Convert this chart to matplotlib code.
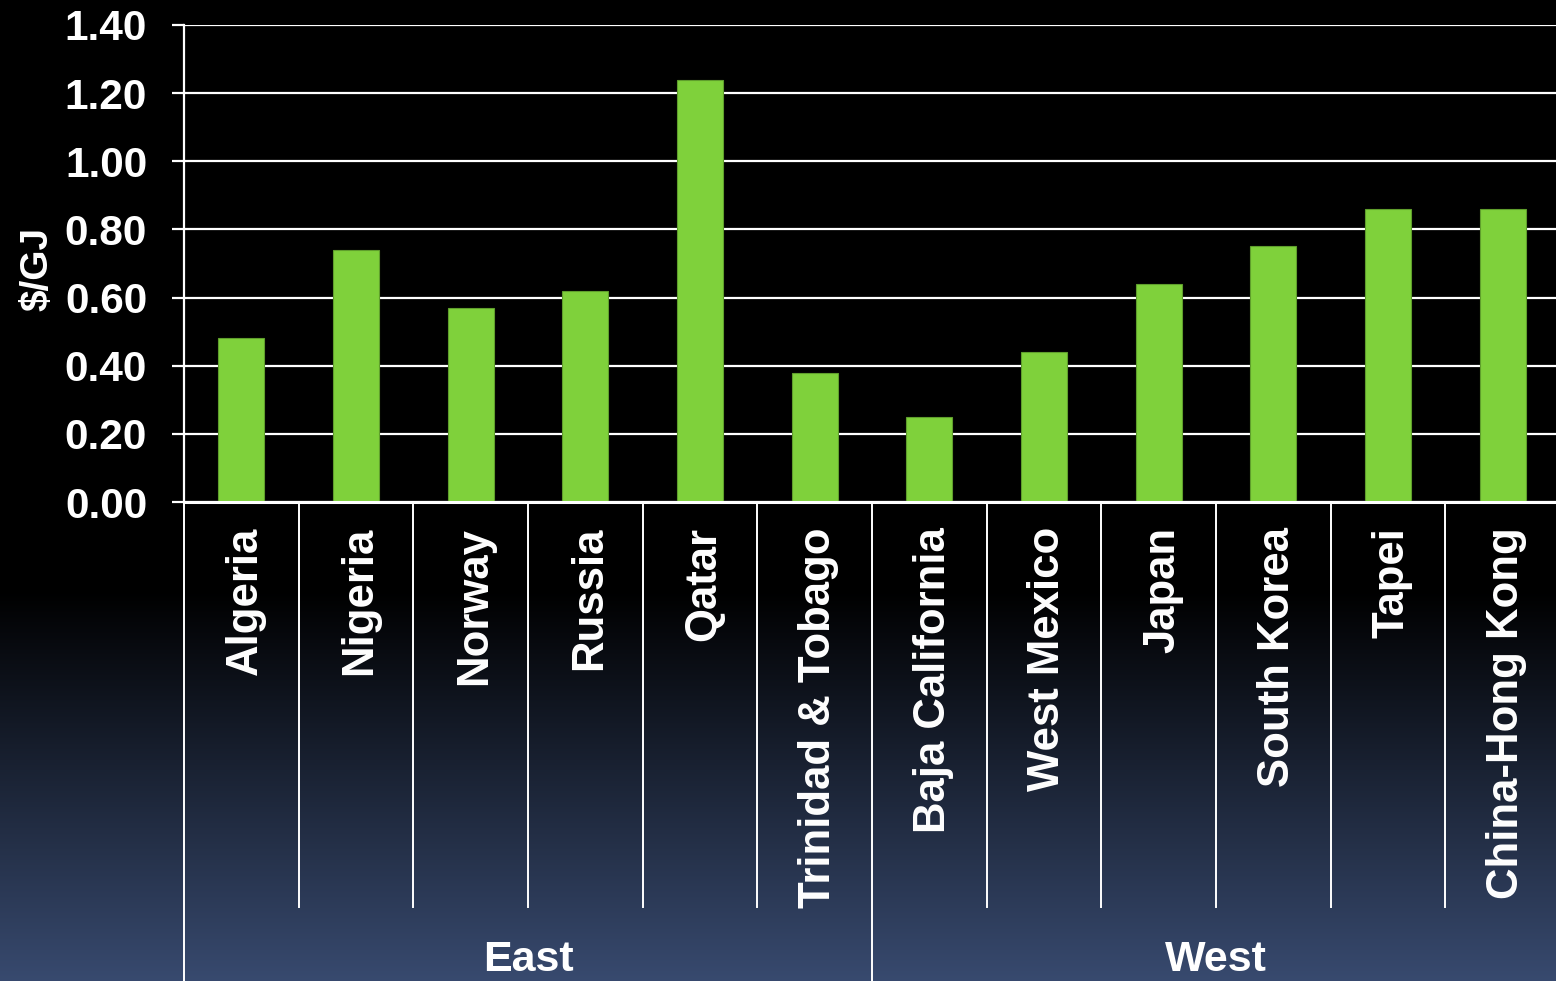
import numpy as np
import matplotlib
matplotlib.use("Agg")
import matplotlib.pyplot as plt
from matplotlib import transforms

plt.rcParams['font.family'] = ['Liberation Sans', 'DejaVu Sans']
plt.rcParams['font.weight'] = 'bold'

# Cost per GJ by origin / destination
countries = ["Algeria", "Nigeria", "Norway", "Russia", "Qatar", "Trinidad & Tobago",
             "Baja California", "West Mexico", "Japan", "South Korea", "Tapei",
             "China-Hong Kong"]
values = [0.48, 0.74, 0.57, 0.62, 1.24, 0.38,
          0.25, 0.44, 0.64, 0.75, 0.86, 0.86]
groups = ["East", "West"]
group_sizes = [6, 6]
yticks = [0.00, 0.20, 0.40, 0.60, 0.80, 1.00, 1.20, 1.40]

W, H = 1556, 981
fig = plt.figure(figsize=(W / 100, H / 100), dpi=100)

# Background: black on top fading to slate blue at the bottom
bg = fig.add_axes([0, 0, 1, 1], zorder=0)
rows = np.arange(H)
t = np.clip((rows - 590) / (H - 590), 0, 1)
top_c = np.array([0, 0, 0])
bot_c = np.array([56, 74, 111]) / 255
grad = top_c[None, :] * (1 - t[:, None]) + bot_c[None, :] * t[:, None]
img = np.repeat(grad[:, None, :], 4, axis=1)
bg.imshow(img, aspect='auto', extent=[0, 1, 0, 1], origin='upper')
bg.axis('off')

ax_bottom = (H - 502) / H
ax_top = (H - 25) / H
ax_left = 184 / W
ax_right = 1560 / W
ax = fig.add_axes([ax_left, ax_bottom, ax_right - ax_left, ax_top - ax_bottom], zorder=1)
ax.patch.set_alpha(0)

x = np.arange(len(countries))
ax.bar(x, values, width=0.4, color='#7fd13b', edgecolor='#5f9e2c', linewidth=0.8, zorder=3)

ax.set_xlim(-0.5, len(countries) - 0.5)
ax.set_ylim(0, 1.40)
ax.set_yticks(yticks)
ax.set_yticklabels([f"{v:.2f}" for v in yticks])
ax.yaxis.grid(True, color='white', linewidth=1.6, zorder=1)
ax.set_axisbelow(True)

for s in ['top', 'right', 'bottom']:
    ax.spines[s].set_visible(False)
ax.spines['left'].set_color('white')
ax.spines['left'].set_linewidth(1.6)

ax.tick_params(axis='y', colors='white', labelsize=30.5, length=8.5, width=1.6, pad=18)
ax.set_xticks(x)
ax.set_xticklabels(countries, rotation=90, va='top', ha='center')
ax.tick_params(axis='x', colors='white', labelsize=31.5, length=0, pad=18)
shift = transforms.ScaledTranslation(4 / 100, 0, fig.dpi_scale_trans)
for lbl in ax.get_xticklabels():
    lbl.set_transform(lbl.get_transform() + shift)
for lbl in ax.get_xticklabels() + ax.get_yticklabels():
    lbl.set_fontweight('bold')

# Baseline
ax.axhline(0, color='white', linewidth=2.2, zorder=4, clip_on=False)

# Category dividers below the axis and group boundaries
trans = transforms.blended_transform_factory(ax.transData, fig.transFigure)
short_end = (H - 907) / H
bounds = [-0.5]
for n in group_sizes:
    bounds.append(bounds[-1] + n)
for i in range(len(countries) + 1):
    xb = i - 0.5
    y_end = 0.0 if xb in bounds else short_end
    ax.plot([xb, xb], [ax_bottom, y_end], transform=trans, color='white',
            linewidth=1.4, clip_on=False, zorder=4)

for gi, name in enumerate(groups):
    xc = (bounds[gi] + bounds[gi + 1]) / 2
    ax.text(xc, (H - 960) / H, name, transform=trans, ha='center', va='center',
            color='white', fontsize=31, fontweight='bold')

fig.text(37 / W, (H - 269) / H, "$/GJ", rotation=90, ha='center', va='center',
         color='white', fontsize=28, fontweight='bold')

fig.savefig("out.png", dpi=100, facecolor='black')
